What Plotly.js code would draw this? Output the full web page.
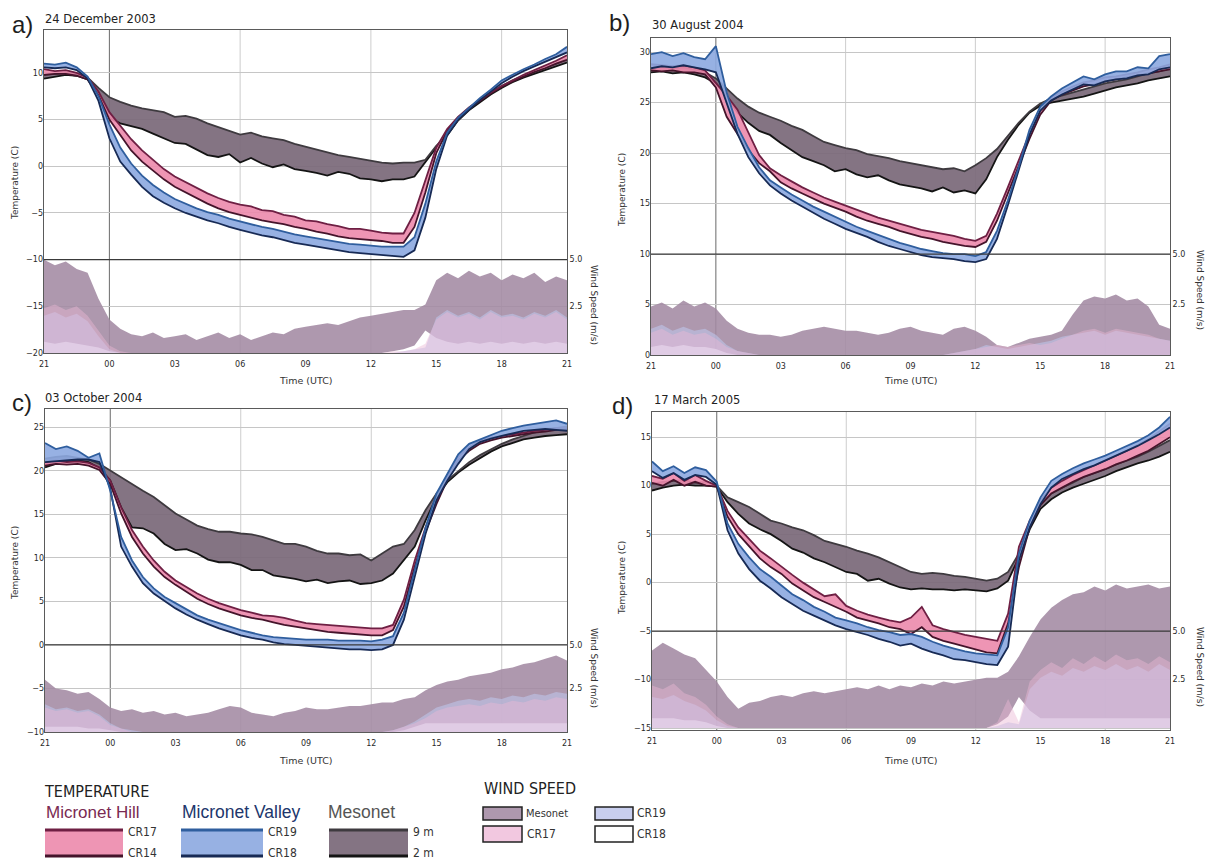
<!DOCTYPE html>
<html><head><meta charset="utf-8">
<script src="https://cdn.plot.ly/plotly-3.0.1.min.js"></script>
<style>html,body{margin:0;padding:0;background:#fff}#chart{width:1213px;height:861px}</style>
</head><body><div id="chart"></div><script>
// time axis: hours since 21 UTC of previous day
const hours = [0,0.5,1,1.5,2,2.5,3,3.5,4,4.5,5,5.5,6,6.5,7,7.5,8,8.5,9,9.5,10,10.5,11,11.5,12,12.5,13,13.5,14,14.5,15,15.5,16,16.5,17,17.5,18,18.5,19,19.5,20,20.5,21,21.5,22,22.5,23,23.5,24];
const timeTickVals = [0,3,6,9,12,15,18,21,24];
const timeTickText = ['21','00','03','06','09','12','15','18','21'];
const panelLetters = ['a)','b)','c)','d)'];
const panelDates = ['24 December 2003','30 August 2004','03 October 2004','17 March 2005'];

// ---- a) 24 December 2003 ----
const a_cr17 = [10.4,10.2,10.3,10.0,9.5,8.0,5.8,4.3,2.9,1.7, 0.7,-0.3,-1.1,-1.7,-2.3,-2.9,-3.4,-3.8,-4.1,-4.3, -4.7,-4.8,-5.2,-5.4,-5.8,-5.9,-6.2,-6.4,-6.7,-6.7, -6.9,-7.1,-7.2,-7.2,-5.0,-1.5,2.0,4.0,5.3,6.3, 7.1,7.9,8.6,9.2,9.8,10.3,10.8,11.3,11.9];
const a_cr14 = [9.8,9.9,9.9,9.7,9.3,7.6,5.0,3.4,1.7,0.5, -0.5,-1.4,-2.2,-2.8,-3.4,-4.0,-4.5,-4.9,-5.2,-5.5, -5.8,-6.0,-6.2,-6.5,-6.7,-7.0,-7.2,-7.5,-7.7,-7.8, -7.9,-8.0,-8.2,-8.2,-6.5,-2.8,1.4,3.8,5.2,6.2, 7.0,7.8,8.5,9.1,9.6,10.1,10.5,11.0,11.4];
const a_cr19 = [11.0,10.9,11.1,10.6,9.6,7.5,4.5,2.0,0.3,-1.0, -2.0,-2.8,-3.5,-4.0,-4.5,-4.9,-5.2,-5.6,-5.9,-6.2, -6.5,-6.7,-7.0,-7.3,-7.5,-7.7,-7.9,-8.1,-8.3,-8.4, -8.5,-8.6,-8.6,-8.6,-7.6,-4.0,0.5,3.6,5.2,6.3, 7.3,8.2,9.2,9.8,10.4,10.9,11.5,12.0,12.8];
const a_cr18 = [10.6,10.5,10.6,10.3,9.4,7.0,3.0,0.5,-0.9,-2.2, -3.2,-3.9,-4.5,-5.0,-5.4,-5.8,-6.1,-6.5,-6.8,-7.1, -7.4,-7.6,-7.9,-8.2,-8.4,-8.6,-8.8,-9.0,-9.2,-9.3, -9.4,-9.5,-9.6,-9.7,-9.0,-5.5,-0.3,3.3,5.0,6.1, 7.1,8.0,8.9,9.6,10.2,10.7,11.2,11.7,12.2];
const a_m9 = [9.8,9.9,10.0,9.9,9.5,8.4,7.4,6.9,6.5,6.2, 6.0,5.8,5.3,5.4,5.1,4.6,4.2,3.8,3.4,3.6, 3.2,3.0,2.8,2.4,2.1,1.8,1.5,1.2,1.0,0.8, 0.6,0.4,0.3,0.4,0.4,0.7,2.2,3.4,5.0,6.2, 7.1,7.9,8.6,9.2,9.7,10.1,10.6,11.0,11.5];
const a_m2 = [9.4,9.6,9.8,9.7,9.3,7.8,5.2,4.6,4.3,4.0, 3.5,3.0,2.5,2.4,1.8,1.2,1.0,1.3,0.4,0.9, 0.3,-0.1,0.2,-0.3,-0.5,-0.7,-1.0,-0.6,-0.8,-1.3, -1.4,-1.6,-1.4,-1.4,-1.1,0.4,2.0,3.3,4.9,6.0, 6.9,7.7,8.4,9.0,9.5,9.9,10.3,10.7,11.1];
const a_wMeso = [5.0,4.7,4.9,4.5,4.3,2.9,1.8,1.3,1.0,0.9, 1.1,0.8,0.9,1.0,0.7,0.9,1.1,0.8,1.0,0.7, 0.9,1.1,1.0,1.3,1.4,1.5,1.6,1.5,1.7,1.9, 2.0,2.1,2.2,2.3,2.3,2.6,3.9,4.3,4.0,4.4, 4.1,4.3,3.9,4.2,4.0,4.3,3.8,4.1,3.9];
const a_wCR17 = [2.4,2.6,2.3,2.5,2.0,1.2,0.4,0.1,0,0, 0,0,0,0,0,0,0,0,0,0, 0,0,0,0,0,0,0,0,0,0, 0,0,0.1,0.1,0.2,0.5,1.8,2.2,1.9,2.1, 1.8,2.2,1.9,2.0,1.8,2.1,1.9,2.2,1.8];
const a_wCR19 = [2.0,2.2,1.9,2.1,1.7,0.9,0.2,0,0,0, 0,0,0,0,0,0,0,0,0,0, 0,0,0,0,0,0,0,0,0,0, 0,0,0,0.1,0.2,0.3,1.9,2.3,2.0,2.2, 1.9,2.3,2.0,2.1,1.9,2.2,2.0,2.3,1.9];
const a_wCR18 = [0.6,0.5,0.6,0.5,0.4,0.3,0.1,0,0,0, 0,0,0,0,0,0,0,0,0,0, 0,0,0,0,0,0,0,0,0,0, 0,0,0.1,0.2,0.4,1.2,0.8,0.6,0.5,0.6, 0.5,0.6,0.5,0.6,0.5,0.6,0.5,0.6,0.5];

// ---- b) 30 August 2004 ----
const b_cr17 = [28.8,28.7,28.6,28.7,28.5,28.2,27.0,25.7,24.3,22.0, 19.8,18.5,17.8,17.2,16.6,16.1,15.6,15.2,14.8,14.4, 14.0,13.6,13.3,13.0,12.7,12.4,12.2,12.0,11.8,11.5, 11.3,11.8,14.0,16.6,19.3,21.9,24.2,25.5,26.1,26.6, 27.0,27.2,27.5,27.6,27.8,28.0,28.3,28.5,28.8];
const b_cr14 = [28.2,28.1,28.2,28.0,28.0,27.8,26.5,23.6,21.9,20.3, 19.0,18.2,17.1,16.5,16.0,15.5,15.0,14.6,14.2,13.7, 13.3,13.0,12.7,12.3,12.0,11.7,11.5,11.2,11.0,10.8, 10.7,11.2,13.3,16.0,18.8,21.4,23.8,25.2,25.8,26.2, 26.6,26.8,27.1,27.3,27.5,27.7,27.9,28.1,28.3];
const b_cr19 = [29.8,30.0,29.6,29.9,29.5,29.3,30.6,26.0,22.6,20.5, 18.6,17.3,16.6,15.9,15.3,14.7,14.2,13.7,13.2,12.7, 12.3,11.9,11.5,11.1,10.8,10.5,10.3,10.1,10.0,10.0, 9.8,10.2,12.3,15.3,18.6,22.3,24.6,25.6,26.4,27.0, 27.6,27.3,27.8,28.1,28.1,28.5,28.4,29.6,29.8];
const b_cr18 = [28.4,28.6,28.5,28.7,28.5,28.3,28.0,25.0,21.9,19.6, 18.0,16.8,16.0,15.3,14.7,14.1,13.5,13.0,12.5,12.1, 11.7,11.2,10.8,10.5,10.2,9.9,9.7,9.6,9.5,9.3, 9.2,9.5,11.5,14.8,18.2,21.8,24.2,25.2,25.8,26.3, 26.8,26.7,27.1,27.3,27.4,27.7,27.8,28.3,28.5];
const b_m9 = [28.5,28.6,28.4,28.5,28.3,28.0,27.4,26.4,25.4,24.6, 24.0,23.6,23.2,22.7,22.3,21.7,21.1,20.8,20.5,20.3, 19.9,19.7,19.5,19.2,19.0,18.8,18.6,18.4,18.5,18.2, 18.8,19.5,20.4,21.7,23.0,24.1,24.9,25.4,25.7,26.0, 26.3,26.6,26.9,27.1,27.3,27.6,27.9,28.1,28.4];
const b_m2 = [28.0,28.1,27.9,28.0,27.8,27.5,26.9,25.6,24.0,23.0, 22.2,21.8,21.0,20.3,19.6,19.2,18.8,18.2,18.4,17.9, 17.6,17.8,17.3,16.9,16.7,16.5,16.2,16.6,16.1,16.3, 16.0,17.4,19.6,21.3,22.8,24.0,24.7,25.0,25.2,25.4, 25.6,25.9,26.2,26.5,26.7,26.9,27.2,27.4,27.6];
const b_wMeso = [2.4,2.6,2.3,2.7,2.4,2.6,2.3,1.7,1.3,1.1, 1.0,1.0,0.9,1.0,1.2,1.3,1.4,1.3,1.2,1.2, 1.1,1.0,1.1,1.3,1.4,1.2,1.1,1.0,1.3,1.4, 1.2,0.9,0.5,0.4,0.6,0.8,0.9,1.0,1.2,2.0, 2.7,2.9,2.8,3.0,2.7,2.8,2.4,1.5,1.3];
const b_wCR17 = [1.1,1.3,1.0,1.2,1.0,1.1,0.8,0.4,0.2,0.1, 0,0,0,0,0,0,0,0,0,0, 0,0,0,0,0,0,0,0,0.1,0.2, 0.3,0.4,0.5,0.4,0.5,0.6,0.5,0.6,0.8,1.0, 1.2,1.3,1.1,1.3,1.2,1.1,1.0,0.8,0.7];
const b_wCR19 = [1.3,1.5,1.2,1.4,1.2,1.3,1.0,0.5,0.2,0.1, 0,0,0,0,0,0,0,0,0,0, 0,0,0,0,0,0,0,0,0.1,0.2, 0.3,0.5,0.4,0.3,0.4,0.5,0.6,0.7,0.9,1.0, 1.1,1.2,1.0,1.2,1.1,1.0,0.9,0.8,0.7];
const b_wCR18 = [0.4,0.5,0.4,0.5,0.4,0.4,0.3,0.1,0,0, 0,0,0,0,0,0,0,0,0,0, 0,0,0,0,0,0,0,0,0,0, 0,0,0,0,0,0,0,0,0,0, 0,0,0,0,0,0,0,0,0];

// ---- c) 03 October 2004 ----
const c_cr17 = [21.0,21.2,21.0,21.1,20.9,20.4,18.9,15.8,13.2,11.3, 9.7,8.4,7.4,6.6,5.9,5.3,4.8,4.4,4.0,3.7, 3.4,3.3,3.1,2.8,2.5,2.4,2.3,2.2,2.1,2.0, 1.9,1.9,2.3,5.2,9.7,13.5,16.6,19.3,21.6,22.7, 23.5,23.8,24.0,24.2,24.4,24.6,24.7,24.9,25.0];
const c_cr14 = [20.6,20.8,20.7,20.8,20.6,20.1,18.5,15.1,12.4,10.5, 9.0,7.8,6.9,6.1,5.3,4.7,4.2,3.8,3.4,3.1, 2.9,2.6,2.3,2.1,1.9,1.7,1.5,1.4,1.3,1.2, 1.1,1.1,1.7,4.4,9.0,13.0,16.2,19.0,21.2,22.3, 23.1,23.5,23.8,24.0,24.2,24.4,24.5,24.7,24.8];
const c_cr19 = [23.2,22.5,22.8,22.3,21.5,22.0,17.7,12.4,9.7,7.8, 6.5,5.5,4.8,4.1,3.4,2.9,2.5,2.1,1.7,1.4, 1.1,0.9,0.8,0.7,0.6,0.6,0.6,0.5,0.5,0.5, 0.4,0.6,1.0,3.7,8.6,13.5,17.4,19.7,21.9,23.1, 23.6,24.1,24.6,24.9,25.2,25.4,25.6,25.8,25.4];
const c_cr18 = [21.0,21.1,21.2,21.3,21.3,21.0,18.0,11.3,9.0,7.1, 5.9,5.0,4.2,3.5,2.9,2.4,1.9,1.5,1.1,0.8, 0.6,0.3,0.1,0.0,-0.1,-0.2,-0.3,-0.4,-0.5,-0.5, -0.6,-0.5,0.0,2.9,7.8,12.8,16.6,18.9,20.8,22.5, 23.3,23.7,24.0,24.3,24.6,24.7,24.8,24.7,24.6];
const c_m9 = [21.4,21.6,21.7,21.5,21.3,20.8,20.0,19.2,18.5,17.7, 17.0,16.0,15.1,14.4,13.7,13.3,13.0,13.0,12.8,12.7, 12.4,12.0,11.6,11.6,11.3,10.8,10.5,10.5,10.3,10.4, 9.7,10.5,11.3,11.6,13.2,15.5,17.4,18.9,20.0,21.0, 21.8,22.5,23.1,23.6,24.0,24.4,24.7,24.9,25.1];
const c_m2 = [20.4,20.8,21.1,21.2,21.0,20.3,18.9,15.8,13.5,13.4, 12.8,11.6,10.9,11.0,10.5,9.8,9.5,9.5,9.2,8.6, 8.6,8.0,7.8,7.6,7.3,7.5,7.1,7.3,7.4,7.0, 7.1,7.4,8.2,9.7,11.3,14.3,17.0,18.7,19.8,20.7, 21.5,22.2,22.8,23.2,23.6,23.8,24.0,24.1,24.2];
const c_wMeso = [3.0,2.5,2.4,2.2,2.3,1.9,1.4,1.2,1.3,1.1, 1.2,1.0,1.1,0.9,1.0,1.1,1.3,1.5,1.4,1.1, 1.0,0.9,1.1,1.2,1.4,1.3,1.3,1.4,1.5,1.5, 1.6,1.7,1.7,1.9,2.0,2.4,2.7,2.9,3.0,3.2, 3.3,3.4,3.6,3.7,3.9,4.0,4.2,4.4,4.1];
const c_wCR17 = [1.4,1.2,1.3,1.1,1.2,0.9,0.4,0.2,0,0, 0,0,0,0,0,0,0,0,0,0, 0,0,0,0,0,0,0,0,0,0, 0,0,0.1,0.3,0.5,0.8,1.2,1.4,1.5,1.6, 1.5,1.7,1.6,1.8,1.7,1.9,1.8,2.0,1.9];
const c_wCR19 = [1.6,1.3,1.4,1.2,1.3,1.0,0.5,0.2,0.1,0, 0,0,0,0,0,0,0,0,0,0, 0,0,0,0,0,0,0,0,0,0, 0,0,0.1,0.3,0.6,1.0,1.4,1.6,1.8,1.9, 1.8,2.0,1.9,2.1,2.0,2.2,2.1,2.3,2.2];
const c_wCR18 = [0.3,0.3,0.3,0.3,0.2,0.2,0.1,0,0,0, 0,0,0,0,0,0,0,0,0,0, 0,0,0,0,0,0,0,0,0,0, 0,0,0,0.1,0.3,0.5,0.5,0.5,0.5,0.5, 0.5,0.5,0.5,0.5,0.5,0.5,0.5,0.5,0.5];

// ---- d) 17 March 2005 ----
const d_cr17 = [11.0,10.7,11.3,10.5,11.1,10.5,10.0,7.4,5.7,4.5, 3.3,2.5,1.6,0.8,0.0,-0.7,-1.4,-1.2,-2.4,-2.9, -3.3,-3.6,-3.9,-4.1,-3.6,-2.5,-4.4,-4.8,-5.1,-5.4, -5.6,-5.8,-6.0,-3.2,3.7,6.4,8.5,9.8,10.5,11.1, 11.6,12.1,12.6,13.1,13.6,14.2,14.8,15.6,16.4];
const d_cr14 = [10.3,10.0,10.6,10.0,10.4,10.0,9.9,6.8,5.0,3.7, 2.5,1.6,0.9,-0.1,-0.8,-1.5,-2.0,-2.5,-3.0,-3.6, -3.9,-4.2,-4.6,-4.8,-5.3,-4.6,-5.6,-6.0,-6.3,-6.6, -6.9,-7.2,-7.3,-4.2,1.6,5.7,8.0,9.2,9.8,10.4, 10.9,11.3,11.7,12.2,12.6,13.1,13.6,14.3,15.0];
const d_cr19 = [12.5,11.5,12.0,11.3,11.9,11.6,10.4,6.1,4.0,2.6, 1.4,0.6,-0.3,-1.2,-1.8,-2.5,-3.0,-3.6,-3.9,-4.2, -4.6,-4.9,-5.1,-5.4,-5.3,-5.6,-6.1,-6.5,-6.8,-7.1, -7.3,-7.4,-7.5,-4.6,3.0,6.4,8.8,10.5,11.2,11.8, 12.3,12.7,13.1,13.6,14.1,14.6,15.2,16.0,17.1];
const d_cr18 = [11.5,10.8,11.3,10.6,11.1,10.9,10.1,5.4,3.0,1.4, 0.2,-0.6,-1.5,-2.2,-2.9,-3.4,-3.9,-4.4,-4.8,-5.1, -5.4,-5.8,-6.1,-6.5,-6.3,-6.8,-7.2,-7.5,-7.9,-8.0, -8.2,-8.4,-8.5,-6.6,2.3,5.7,8.1,9.8,10.7,11.2, 11.7,12.1,12.6,13.1,13.6,14.1,14.7,15.3,16.0];
const d_m9 = [10.2,10.4,10.5,10.6,10.3,10.4,10.0,8.8,8.3,7.8, 7.1,6.4,6.1,5.7,5.4,4.9,4.3,4.0,3.7,3.3, 3.0,2.6,2.1,1.6,1.1,0.9,1.0,0.9,0.7,0.6, 0.4,0.2,0.4,1.1,3.0,6.1,8.1,9.2,9.8,10.3, 10.9,11.3,11.7,12.2,12.6,13.0,13.5,14.1,14.7];
const d_m2 = [9.5,9.8,10.0,10.1,10.0,10.0,9.9,8.3,7.1,6.1, 5.5,5.0,4.3,3.5,3.1,2.5,2.1,1.6,1.1,0.9, 0.2,0.4,-0.1,-0.5,-0.7,-0.6,-0.7,-0.7,-0.8,-0.7, -0.8,-0.9,-0.6,0.2,2.6,5.5,7.6,8.6,9.3,9.8, 10.2,10.6,11.0,11.5,11.9,12.3,12.6,13.0,13.5];
const d_wMeso = [4.0,4.4,4.1,3.8,3.6,3.0,2.4,1.6,1.0,1.3, 1.4,1.6,1.7,1.6,1.8,1.9,1.8,1.9,2.0,2.1, 2.0,2.2,2.0,2.2,2.1,2.3,2.2,2.4,2.3,2.4, 2.5,2.6,2.6,2.9,3.7,4.7,5.6,6.2,6.6,6.9, 7.0,7.3,7.1,7.4,7.2,7.3,7.4,7.2,7.3];
const d_wCR17 = [2.2,2.0,2.3,1.8,1.6,1.2,0.6,0.2,0,0, 0,0,0,0,0,0,0,0,0,0, 0,0,0,0,0,0,0,0,0,0, 0,0,0.3,1.5,0.3,2.4,3.0,3.4,3.1,3.6, 3.3,3.7,3.4,3.8,3.5,3.6,3.3,3.7,3.4];
const d_wCR19 = [1.6,1.5,1.7,1.4,1.2,0.9,0.4,0.1,0,0, 0,0,0,0,0,0,0,0,0,0, 0,0,0,0,0,0,0,0,0,0, 0,0,0.1,0.3,0.2,2.0,2.6,2.9,2.7,3.1, 2.9,3.2,3.0,3.3,3.0,3.2,2.9,3.3,3.0];
const d_wCR18 = [0.5,0.5,0.5,0.4,0.4,0.3,0.1,0,0,0, 0,0,0,0,0,0,0,0,0,0, 0,0,0,0,0,0,0,0,0,0, 0,0,0.2,0.6,1.6,0.9,0.5,0.5,0.5,0.5, 0.5,0.5,0.5,0.5,0.5,0.5,0.5,0.5,0.5];

// ---- layout geometry (pixels) ----
const W = 1213, H = 861;
const boxes = [
  {x0:44, x1:567, y0:30, y1:353},
  {x0:651, x1:1170, y0:38, y1:355},
  {x0:45, x1:567, y0:409, y1:732},
  {x0:652, x1:1170, y0:412, y1:730}
];
const tempRanges = [[-20,14.6],[0,31.4],[-10,27.1],[-15.2,17.6]];
const windZeroTemp = [-20, 0, -10, -15]; // temperature gridline where wind = 0 (2 C per m/s)

const panels = [
  {t:[a_m2,a_m9,a_cr14,a_cr17,a_cr18,a_cr19], w:[a_wMeso,a_wCR18,a_wCR19,a_wCR17]},
  {t:[b_m2,b_m9,b_cr14,b_cr17,b_cr18,b_cr19], w:[b_wMeso,b_wCR18,b_wCR19,b_wCR17]},
  {t:[c_m2,c_m9,c_cr14,c_cr17,c_cr18,c_cr19], w:[c_wMeso,c_wCR18,c_wCR19,c_wCR17]},
  {t:[d_m2,d_m9,d_cr14,d_cr17,d_cr18,d_cr19], w:[d_wMeso,d_wCR18,d_wCR19,d_wCR17]}
];

const C = {
  mesoFill:'rgba(122,104,120,0.92)', mesoTop:'#3e3a3f', mesoBot:'#141414',
  hillFill:'rgba(236,138,172,0.9)', hillTop:'#6e1f43', hillBot:'#45142b',
  valFill:'rgba(140,168,224,0.9)', valTop:'#2f5e9e', valBot:'#172a55',
  wMeso:'rgba(163,138,163,0.88)', wCR18:'rgba(255,255,255,1)', wCR19:'rgba(190,196,234,0.6)', wCR17:'rgba(236,184,212,0.45)'
};

const px = v => v / W;
const py = v => 1 - v / H;
const data = [];
const layout = {
  width: W, height: H, margin:{l:0,r:0,t:0,b:0},
  paper_bgcolor:'#ffffff', plot_bgcolor:'#ffffff', showlegend:false,
  shapes:[], annotations:[]
};
const tickFont = {family:'DejaVu Sans, sans-serif', size:8, color:'#2a2a2a'};

panels.forEach((p, i) => {
  const n = i + 1;
  const sx = n === 1 ? '' : String(n);
  const sw = n === 1 ? '' : String(n);     // wind base axis
  const st = String(n + 4);                 // temperature overlay axis
  const b = boxes[i], tr = tempRanges[i], tz = windZeroTemp[i];

  layout['xaxis' + sx] = {
    domain:[px(b.x0), px(b.x1)], anchor:'y' + sw, range:[0,24],
    tickvals:timeTickVals, ticktext:timeTickText, tickfont:tickFont,
    showgrid:false, zeroline:false, showline:true, mirror:true,
    linecolor:'#5a5a5a', linewidth:1, ticks:'', ticklabelstandoff:3
  };
  layout['yaxis' + sw] = {
    domain:[py(b.y1), py(b.y0)], anchor:'x' + sx, side:'right',
    range:[(tr[0]-tz)/2, (tr[1]-tz)/2], tickvals:[2.5,5], ticktext:['2.5','5.0'],
    tickfont:tickFont, showgrid:false, zeroline:false, showline:true, mirror:true,
    linecolor:'#5a5a5a', linewidth:1, ticks:''
  };
  layout['yaxis' + st] = {
    overlaying:'y' + sw, anchor:'x' + sx, side:'left', range:tr,
    tick0:0, dtick:5, tickfont:tickFont, showgrid:true, gridcolor:'#c6c6c6', gridwidth:1,
    zeroline:false, showline:false, ticks:''
  };

  // wind speed areas (base subplot, drawn beneath temperature)
  const wc = [C.wMeso, C.wCR18, C.wCR19, C.wCR17];
  p.w.forEach((arr, k) => {
    data.push({x:hours, y:arr, xaxis:'x'+sx, yaxis:'y'+sw, type:'scatter', mode:'lines',
      line:{width:0, color:wc[k]}, fill:'tozeroy', fillcolor:wc[k], hoverinfo:'skip'});
  });

  // temperature bands
  const bands = [
    [p.t[0], p.t[1], C.mesoBot, C.mesoTop, C.mesoFill],
    [p.t[2], p.t[3], C.hillBot, C.hillTop, C.hillFill],
    [p.t[4], p.t[5], C.valBot, C.valTop, C.valFill]
  ];
  bands.forEach(bd => {
    data.push({x:hours, y:bd[0], xaxis:'x'+sx, yaxis:'y'+st, type:'scatter', mode:'lines',
      line:{width:1.8, color:bd[2]}, hoverinfo:'skip'});
    data.push({x:hours, y:bd[1], xaxis:'x'+sx, yaxis:'y'+st, type:'scatter', mode:'lines',
      line:{width:1.8, color:bd[3]}, fill:'tonexty', fillcolor:bd[4], hoverinfo:'skip'});
  });

  // vertical gridlines every 6 h (00 UTC darker)
  [3,9,15,21].forEach(v => {
    layout.shapes.push({type:'line', xref:'x'+sx, yref:'y'+sw+' domain', x0:v, x1:v, y0:0, y1:1,
      line:{color: v === 3 ? '#6a6a6a' : '#cdcdcd', width:1}, layer:'below'});
  });
  // dark line at 5.0 m/s
  layout.shapes.push({type:'line', xref:'x'+sx+' domain', yref:'y'+sw, x0:0, x1:1, y0:5, y1:5,
    line:{color:'#3a3a3a', width:1.2}, layer:'above'});

  // titles
  const lx = [10, 607, 10, 610][i], ly = [25, 22, 403, 405][i];
  const dx = [43, 650, 43, 652][i], dy = [19, 25, 398, 400][i];
  layout.annotations.push({text:panelLetters[i], xref:'paper', yref:'paper', x:px(lx), y:py(ly),
    xanchor:'left', yanchor:'middle', showarrow:false, font:{family:'Liberation Sans, Arial, sans-serif', size:24, color:'#1e1e1e'}});
  layout.annotations.push({text:panelDates[i], xref:'paper', yref:'paper', x:px(dx), y:py(dy),
    xanchor:'left', yanchor:'middle', showarrow:false, font:{family:'DejaVu Sans, sans-serif', size:11.5, color:'#222'}});
  const tcx = [15, 622, 15, 622][i], tcy = [183, 190, 563, 578][i];
  layout.annotations.push({text:'Temperature (C)', xref:'paper', yref:'paper', x:px(tcx), y:py(tcy),
    xanchor:'center', yanchor:'middle', textangle:-90, showarrow:false, font:{family:'DejaVu Sans, sans-serif', size:9, color:'#333'}});
  const wcx = [594, 1200, 594, 1200][i], wcy = [305, 290, 668, 667][i];
  layout.annotations.push({text:'Wind Speed (m/s)', xref:'paper', yref:'paper', x:px(wcx), y:py(wcy),
    xanchor:'center', yanchor:'middle', textangle:90, showarrow:false, font:{family:'DejaVu Sans, sans-serif', size:9, color:'#333'}});
  const ux = [306, 911, 306, 911][i], uy = [381, 381, 760, 760][i];
  layout.annotations.push({text:'Time (UTC)', xref:'paper', yref:'paper', x:px(ux), y:py(uy),
    xanchor:'center', yanchor:'middle', showarrow:false, font:{family:'DejaVu Sans, sans-serif', size:9.5, color:'#333'}});
});

// ---- custom legend ----
const narrow = 'Liberation Sans Narrow, DejaVu Sans Condensed, Liberation Sans, Arial, sans-serif';
const sans = 'Liberation Sans, Arial, sans-serif';
function txt(t, x, y, size, color, fam){
  layout.annotations.push({text:t, xref:'paper', yref:'paper', x:px(x), y:py(y), xanchor:'left', yanchor:'middle',
    showarrow:false, font:{family:fam||narrow, size:size, color:color||'#222'}});
}
function rect(x0, y0, x1, y1, fill, lineColor, lw){
  layout.shapes.push({type:'rect', xref:'paper', yref:'paper', x0:px(x0), x1:px(x1), y0:py(y1), y1:py(y0),
    fillcolor:fill, line:{color:lineColor||'rgba(0,0,0,0)', width:lw||0}});
}
function hline(x0, x1, y, color, w){
  layout.shapes.push({type:'line', xref:'paper', yref:'paper', x0:px(x0), x1:px(x1), y0:py(y), y1:py(y),
    line:{color:color, width:w}});
}
txt('TEMPERATURE', 42, 791, 16, '#222');
txt('Micronet Hill', 44, 812, 17, '#7a2a52', sans);
txt('Micronet Valley', 180, 812, 17.5, '#21366c', sans);
txt('Mesonet', 326, 812, 17.5, '#555555', sans);
[[45,123,C.hillFill,C.hillTop,C.hillBot,'CR17','CR14'],
 [181,263,C.valFill,C.valTop,C.valBot,'CR19','CR18'],
 [329,408,C.mesoFill,C.mesoTop,C.mesoBot,'9 m','2 m']].forEach(s => {
  rect(s[0], 829, s[1], 857, s[2]);
  hline(s[0], s[1], 830, s[3], 3);
  hline(s[0], s[1], 856, s[4], 3);
  txt(s[5], s[1]+3, 832, 12, '#333');
  txt(s[6], s[1]+3, 853, 12, '#333');
});
txt('WIND SPEED', 482, 788, 16, '#222');
rect(483, 807, 522, 820, C.wMeso, '#222', 1.5);
rect(483, 826, 522, 842, 'rgb(242,200,224)', '#222', 1.5);
rect(595, 807, 633, 820, 'rgb(200,206,238)', '#222', 1.5);
rect(595, 826, 633, 842, '#ffffff', '#222', 1.5);
txt('Mesonet', 524, 813, 11, '#333');
txt('CR17', 525, 834, 12, '#333');
txt('CR19', 635, 813, 12, '#333');
txt('CR18', 635, 834, 12, '#333');

Plotly.newPlot('chart', data, layout, {staticPlot:true, displayModeBar:false});
</script></body></html>
